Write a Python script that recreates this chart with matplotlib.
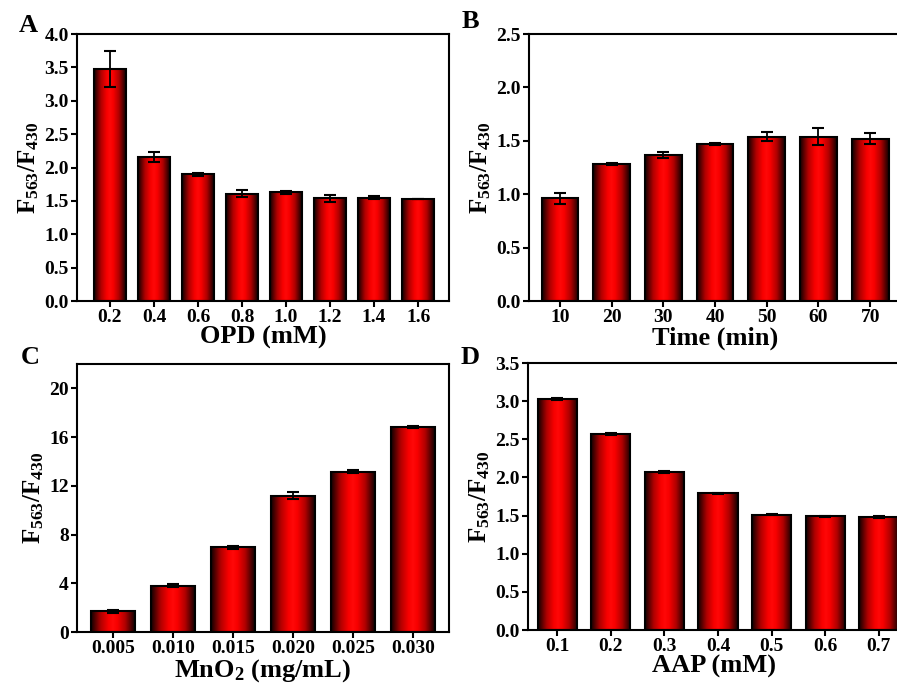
import numpy as np
import matplotlib
matplotlib.use('Agg')
import matplotlib.pyplot as plt
from matplotlib.colors import LinearSegmentedColormap

plt.rcParams['font.family'] = 'Liberation Serif'
plt.rcParams['font.weight'] = 'bold'
plt.rcParams['mathtext.fontset'] = 'custom'
plt.rcParams['mathtext.rm'] = 'Liberation Serif:bold'
plt.rcParams['mathtext.bf'] = 'Liberation Serif:bold'
plt.rcParams['mathtext.it'] = 'Liberation Serif:bold'

# Data
opd = [0.2, 0.4, 0.6, 0.8, 1.0, 1.2, 1.4, 1.6]
opd_val = [3.48, 2.16, 1.90, 1.61, 1.63, 1.54, 1.55, 1.53]
opd_err = [0.27, 0.08, 0.02, 0.05, 0.02, 0.05, 0.02, 0.005]

time_min = [10, 20, 30, 40, 50, 60, 70]
time_val = [0.96, 1.28, 1.37, 1.47, 1.54, 1.54, 1.52]
time_err = [0.05, 0.01, 0.03, 0.005, 0.04, 0.08, 0.05]

mno2 = [0.005, 0.010, 0.015, 0.020, 0.025, 0.030]
mno2_val = [1.7, 3.8, 6.95, 11.2, 13.15, 16.8]
mno2_err = [0.12, 0.1, 0.15, 0.3, 0.12, 0.08]

aap = [0.1, 0.2, 0.3, 0.4, 0.5, 0.6, 0.7]
aap_val = [3.03, 2.57, 2.07, 1.79, 1.51, 1.49, 1.48]
aap_err = [0.015, 0.01, 0.01, 0.01, 0.005, 0.01, 0.01]

cmap = LinearSegmentedColormap.from_list('redbar', [
    (0.0, '#100000'), (0.22, '#b00000'), (0.4, '#f80000'), (0.5, '#ff0808'),
    (0.6, '#f80000'), (0.78, '#b00000'), (1.0, '#100000')])
grad = np.linspace(0, 1, 256).reshape(1, -1)

ylab = r'$\mathbf{F_{563}/F_{430}}$'


def grad_bars(ax, x, y, err, w):
    bars = ax.bar(x, y, width=w, color='none', edgecolor='black', lw=1.5, zorder=3)
    for b in bars:
        x0 = b.get_x()
        im = ax.imshow(grad, cmap=cmap, aspect='auto', interpolation='bilinear',
                       extent=(x0, x0 + w, 0, b.get_height()), zorder=2)
        im.set_clip_path(b)
    ax.errorbar(x, y, yerr=err, fmt='none', ecolor='black', elinewidth=1.3,
                capsize=4, capthick=1.5, zorder=4)


def style(ax, xlabel):
    for s in ax.spines.values():
        s.set_linewidth(1.5)
    ax.tick_params(direction='out', length=4, width=1.5, labelsize=14, pad=2,
                   top=False, right=False)
    ax.set_xlabel(xlabel, fontsize=19, fontweight='bold', labelpad=0)
    ax.set_ylabel(ylab, fontsize=18, labelpad=2)


fig = plt.figure(figsize=(8.97, 6.86), dpi=100)

axA = fig.add_axes([0.0858, 0.5612, 0.4147, 0.3892])
axB = fig.add_axes([0.5897, 0.5612, 0.4150, 0.3892])
axC = fig.add_axes([0.0858, 0.0787, 0.4147, 0.3907])
axD = fig.add_axes([0.5886, 0.0816, 0.4150, 0.3892])

# A
grad_bars(axA, opd, opd_val, opd_err, 0.145)
axA.set_xlim(0.05, 1.74)
axA.set_ylim(0, 4.0)
axA.set_xticks(opd)
axA.set_xticklabels([f'{v:.1f}' for v in opd])
axA.set_yticks(np.arange(0, 4.01, 0.5))
axA.set_yticklabels([f'{v:.1f}' for v in np.arange(0, 4.01, 0.5)])
style(axA, 'OPD (mM)')

# B
grad_bars(axB, time_min, time_val, time_err, 7.1)
axB.set_xlim(4, 76)
axB.set_ylim(0, 2.5)
axB.set_xticks(time_min)
axB.set_yticks(np.arange(0, 2.51, 0.5))
axB.set_yticklabels([f'{v:.1f}' for v in np.arange(0, 2.51, 0.5)])
style(axB, 'Time (min)')

# C
grad_bars(axC, mno2, mno2_val, mno2_err, 0.0036)
axC.set_xlim(0.002, 0.033)
axC.set_ylim(0, 22)
axC.set_xticks(mno2)
axC.set_xticklabels([f'{v:.3f}' for v in mno2])
axC.set_yticks([0, 4, 8, 12, 16, 20])
style(axC, r'MnO$_\mathbf{2}$ (mg/mL)')

# D
grad_bars(axD, aap, aap_val, aap_err, 0.073)
axD.set_xlim(0.0455, 0.74)
axD.set_ylim(0, 3.5)
axD.set_xticks(aap)
axD.set_xticklabels([f'{v:.1f}' for v in aap])
axD.set_yticks(np.arange(0, 3.51, 0.5))
axD.set_yticklabels([f'{v:.1f}' for v in np.arange(0, 3.51, 0.5)])
style(axD, 'AAP (mM)')

for lab, (px, py) in zip('ABCD', [(28, 25), (470, 21), (30, 357), (470, 358)]):
    fig.text(px / 897, 1 - py / 686, lab, fontsize=19, fontweight='bold',
             ha='center', va='center')

fig.savefig('out.png', dpi=100)
